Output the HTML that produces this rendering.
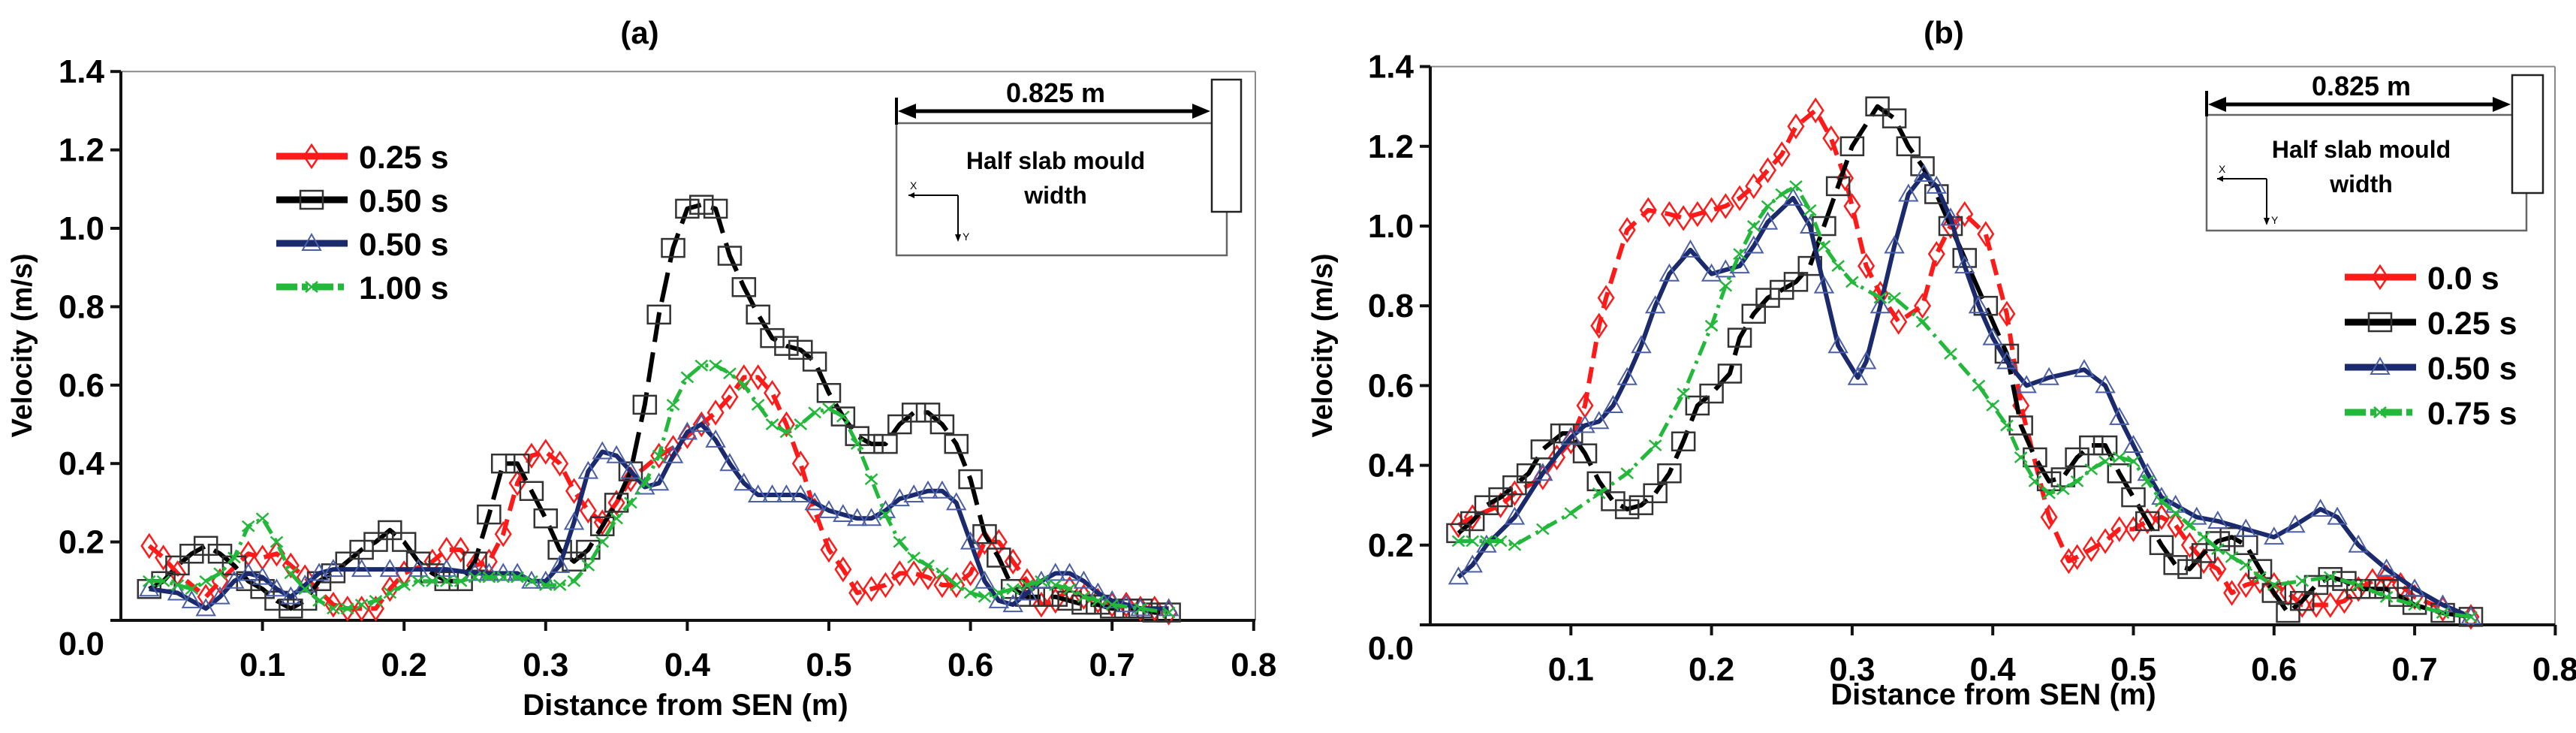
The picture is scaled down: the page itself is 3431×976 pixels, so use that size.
<!DOCTYPE html>
<html><head><meta charset="utf-8">
<style>
html,body{margin:0;padding:0;background:#fff;}
svg{display:block;font-family:"Liberation Sans",Arial,sans-serif;}
</style></head>
<body>
<svg id="chart" width="3431" height="976" viewBox="0 0 3431 976" xmlns="http://www.w3.org/2000/svg">
<rect x="0" y="0" width="3431" height="976" fill="#fff"/>
<g id="pa"></g>
<g id="pb"></g>
</svg>
<script>
// ---------- Panel (a) data ----------
const aRedX=[0.02,0.03,0.04,0.06,0.07,0.09,0.10,0.11,0.12,0.13,0.15,0.16,0.17,0.18,0.19,0.20,0.22,0.23,0.24,0.25,0.26,0.27,0.28,0.29,0.30,0.31,0.32,0.33,0.34,0.35,0.36,0.38,0.39,0.40,0.41,0.42,0.43,0.44,0.45,0.46,0.47,0.48,0.49,0.50,0.51,0.52,0.53,0.54,0.55,0.56,0.57,0.58,0.59,0.60,0.61,0.62,0.63,0.64,0.65,0.66,0.67,0.68,0.69,0.70,0.71,0.72,0.73,0.74];
const aRedY=[0.19,0.16,0.12,0.06,0.10,0.17,0.16,0.17,0.14,0.11,0.04,0.03,0.03,0.03,0.08,0.12,0.15,0.18,0.18,0.14,0.15,0.22,0.35,0.42,0.43,0.40,0.33,0.28,0.25,0.30,0.36,0.42,0.44,0.47,0.50,0.53,0.57,0.62,0.62,0.58,0.50,0.40,0.28,0.18,0.13,0.07,0.08,0.09,0.12,0.12,0.11,0.09,0.09,0.12,0.20,0.20,0.15,0.10,0.04,0.05,0.08,0.06,0.05,0.04,0.04,0.03,0.03,0.02];
const aBlkX=[0.02,0.03,0.04,0.05,0.06,0.07,0.08,0.09,0.10,0.11,0.12,0.13,0.14,0.15,0.16,0.17,0.18,0.19,0.20,0.21,0.22,0.23,0.24,0.25,0.26,0.27,0.28,0.29,0.30,0.31,0.32,0.33,0.34,0.35,0.36,0.37,0.38,0.39,0.40,0.41,0.42,0.43,0.44,0.45,0.46,0.47,0.48,0.49,0.50,0.51,0.52,0.53,0.54,0.55,0.56,0.57,0.58,0.59,0.60,0.61,0.62,0.63,0.64,0.65,0.66,0.67,0.68,0.69,0.70,0.71,0.72,0.73,0.74];
const aBlkY=[0.08,0.10,0.14,0.17,0.19,0.17,0.14,0.10,0.08,0.05,0.03,0.05,0.10,0.12,0.15,0.18,0.20,0.23,0.20,0.15,0.12,0.10,0.10,0.15,0.27,0.40,0.40,0.33,0.26,0.18,0.15,0.18,0.24,0.30,0.38,0.55,0.78,0.95,1.05,1.06,1.05,0.93,0.85,0.78,0.72,0.70,0.69,0.66,0.58,0.52,0.47,0.45,0.45,0.50,0.53,0.53,0.50,0.45,0.36,0.22,0.16,0.08,0.06,0.06,0.06,0.05,0.04,0.04,0.03,0.03,0.03,0.02,0.02];
const aBluX=[0.02,0.04,0.05,0.06,0.07,0.08,0.09,0.10,0.11,0.12,0.13,0.14,0.15,0.17,0.19,0.21,0.23,0.25,0.26,0.27,0.28,0.29,0.30,0.31,0.32,0.33,0.34,0.35,0.36,0.37,0.38,0.39,0.40,0.41,0.42,0.43,0.44,0.45,0.46,0.47,0.48,0.49,0.50,0.51,0.52,0.53,0.54,0.55,0.56,0.57,0.58,0.59,0.60,0.61,0.62,0.63,0.64,0.65,0.66,0.67,0.68,0.69,0.70,0.71,0.72,0.74];
const aBluY=[0.08,0.07,0.05,0.03,0.06,0.10,0.12,0.11,0.08,0.06,0.09,0.12,0.13,0.13,0.13,0.13,0.13,0.12,0.12,0.12,0.12,0.10,0.10,0.14,0.25,0.38,0.43,0.42,0.38,0.34,0.35,0.42,0.48,0.50,0.46,0.40,0.35,0.32,0.32,0.32,0.32,0.30,0.28,0.27,0.26,0.26,0.28,0.31,0.32,0.33,0.33,0.30,0.20,0.10,0.05,0.04,0.07,0.10,0.12,0.12,0.10,0.07,0.05,0.04,0.03,0.03];
const aGrnX=[0.02,0.03,0.04,0.05,0.06,0.07,0.08,0.09,0.10,0.11,0.12,0.13,0.14,0.15,0.16,0.17,0.18,0.19,0.20,0.21,0.22,0.23,0.24,0.25,0.26,0.27,0.28,0.29,0.30,0.31,0.32,0.33,0.34,0.35,0.36,0.37,0.38,0.39,0.40,0.41,0.42,0.43,0.44,0.45,0.46,0.47,0.48,0.49,0.50,0.51,0.52,0.53,0.54,0.55,0.56,0.57,0.58,0.59,0.60,0.61,0.62,0.63,0.64,0.65,0.66,0.67,0.68,0.69,0.70,0.72,0.74];
const aGrnY=[0.10,0.10,0.09,0.08,0.10,0.12,0.16,0.24,0.26,0.20,0.12,0.08,0.05,0.03,0.03,0.04,0.05,0.07,0.09,0.10,0.10,0.10,0.10,0.11,0.11,0.11,0.11,0.10,0.09,0.09,0.10,0.14,0.20,0.26,0.30,0.35,0.42,0.55,0.62,0.65,0.65,0.63,0.60,0.55,0.50,0.48,0.50,0.53,0.54,0.52,0.45,0.36,0.27,0.20,0.16,0.14,0.12,0.09,0.07,0.06,0.07,0.08,0.09,0.10,0.09,0.08,0.06,0.05,0.04,0.03,0.02];
const aLegend=["0.25 s","0.50 s","0.50 s","1.00 s"];

// ---------- Panel (b) data ----------
const bRedX=[0.02,0.03,0.05,0.06,0.08,0.09,0.10,0.11,0.12,0.125,0.14,0.155,0.17,0.18,0.19,0.20,0.21,0.22,0.23,0.24,0.25,0.26,0.274,0.285,0.295,0.30,0.31,0.32,0.333,0.35,0.36,0.37,0.38,0.395,0.41,0.42,0.44,0.454,0.46,0.47,0.48,0.49,0.50,0.51,0.52,0.53,0.54,0.55,0.56,0.57,0.58,0.59,0.60,0.61,0.62,0.63,0.64,0.65,0.66,0.67,0.68,0.69,0.70,0.72,0.74];
const bRedY=[0.25,0.27,0.30,0.33,0.37,0.42,0.46,0.55,0.75,0.82,0.99,1.04,1.03,1.02,1.03,1.04,1.05,1.07,1.10,1.14,1.18,1.25,1.29,1.22,1.12,1.05,0.90,0.83,0.76,0.80,0.93,1.00,1.03,0.98,0.78,0.55,0.27,0.16,0.17,0.19,0.21,0.24,0.24,0.26,0.27,0.25,0.20,0.16,0.14,0.08,0.10,0.11,0.10,0.08,0.05,0.05,0.05,0.06,0.09,0.11,0.12,0.10,0.07,0.04,0.02];
const bBlkX=[0.02,0.03,0.04,0.05,0.06,0.07,0.08,0.094,0.10,0.11,0.12,0.13,0.14,0.15,0.16,0.17,0.18,0.19,0.20,0.213,0.22,0.23,0.24,0.25,0.26,0.27,0.28,0.29,0.30,0.318,0.33,0.34,0.35,0.36,0.37,0.38,0.395,0.41,0.42,0.43,0.44,0.45,0.46,0.47,0.48,0.49,0.50,0.51,0.52,0.53,0.54,0.55,0.56,0.57,0.58,0.59,0.60,0.61,0.62,0.63,0.64,0.65,0.66,0.67,0.68,0.69,0.70,0.72,0.74];
const bBlkY=[0.23,0.26,0.30,0.32,0.35,0.38,0.44,0.48,0.48,0.43,0.36,0.31,0.29,0.30,0.33,0.38,0.46,0.55,0.58,0.63,0.72,0.78,0.82,0.84,0.86,0.90,1.00,1.10,1.20,1.30,1.27,1.20,1.15,1.08,1.00,0.92,0.80,0.68,0.50,0.42,0.36,0.37,0.42,0.45,0.45,0.38,0.32,0.26,0.20,0.15,0.14,0.18,0.21,0.22,0.20,0.14,0.08,0.03,0.06,0.10,0.12,0.11,0.09,0.09,0.09,0.07,0.05,0.03,0.02];
const bBluX=[0.02,0.03,0.04,0.06,0.08,0.10,0.11,0.12,0.13,0.14,0.15,0.16,0.17,0.185,0.20,0.21,0.22,0.23,0.24,0.258,0.27,0.28,0.29,0.304,0.31,0.32,0.33,0.34,0.351,0.36,0.37,0.38,0.39,0.40,0.41,0.424,0.44,0.465,0.48,0.49,0.50,0.51,0.52,0.53,0.545,0.56,0.58,0.60,0.615,0.633,0.645,0.66,0.68,0.70,0.72,0.74];
const bBluY=[0.12,0.15,0.20,0.27,0.38,0.47,0.50,0.51,0.55,0.62,0.70,0.80,0.88,0.94,0.88,0.89,0.90,0.95,1.01,1.07,1.00,0.85,0.70,0.62,0.66,0.80,0.95,1.08,1.13,1.10,1.02,0.90,0.80,0.72,0.66,0.60,0.62,0.64,0.60,0.52,0.45,0.38,0.32,0.30,0.27,0.26,0.24,0.22,0.25,0.29,0.27,0.20,0.14,0.09,0.05,0.02];
const bGrnX=[0.02,0.03,0.04,0.05,0.06,0.08,0.10,0.12,0.14,0.16,0.18,0.20,0.21,0.22,0.23,0.24,0.25,0.26,0.27,0.28,0.29,0.30,0.32,0.33,0.35,0.37,0.39,0.40,0.41,0.42,0.43,0.44,0.45,0.46,0.47,0.48,0.49,0.50,0.51,0.52,0.53,0.54,0.55,0.56,0.57,0.58,0.59,0.60,0.62,0.64,0.66,0.68,0.70,0.72,0.74];
const bGrnY=[0.21,0.21,0.21,0.21,0.20,0.24,0.28,0.33,0.38,0.45,0.58,0.75,0.85,0.93,1.00,1.05,1.08,1.10,1.04,0.95,0.90,0.86,0.82,0.82,0.76,0.68,0.60,0.55,0.50,0.42,0.36,0.33,0.34,0.36,0.39,0.41,0.42,0.41,0.36,0.31,0.28,0.25,0.22,0.19,0.17,0.15,0.12,0.10,0.11,0.12,0.10,0.07,0.05,0.03,0.02];
const bLegend=["0.0 s","0.25 s","0.50 s","0.75 s"];

const xTicks=[0.1,0.2,0.3,0.4,0.5,0.6,0.7,0.8];
const yTicks=[0.0,0.2,0.4,0.6,0.8,1.0,1.2,1.4];

const NS="http://www.w3.org/2000/svg";
function mk(parent,tag,attrs,text){
  const e=document.createElementNS(NS,tag);
  for(const k in attrs) e.setAttribute(k,attrs[k]);
  if(text!==undefined) e.textContent=text;
  parent.appendChild(e);
  return e;
}
const styles=[
  {color:"#ff1a1a",dash:"22,12",w:6,marker:"diamond"},
  {color:"#000",dash:"40,14",w:6,marker:"square"},
  {color:"#1a2a6c",dash:"",w:6,marker:"triangle"},
  {color:"#22b83a",dash:"20,8,4,8",w:5,marker:"cross"}
];
function markerEl(g,type,cx,cy,color){
  let e;
  if(type==="diamond"){
    e=mk(g,"polygon",{points:`${cx},${cy-15} ${cx+10},${cy} ${cx},${cy+15} ${cx-10},${cy}`,fill:"none",stroke:color,"stroke-width":2.5});
  }else if(type==="square"){
    e=mk(g,"rect",{x:cx-15,y:cy-12,width:30,height:24,fill:"none",stroke:"#333","stroke-width":2.5});
  }else if(type==="triangle"){
    e=mk(g,"polygon",{points:`${cx},${cy-12} ${cx+12},${cy+9} ${cx-12},${cy+9}`,fill:"none",stroke:"#4a5fa8","stroke-width":2});
  }else{
    e=mk(g,"path",{d:`M${cx-8},${cy-7}L${cx+8},${cy+7}M${cx-8},${cy+7}L${cx+8},${cy-7}`,stroke:color,"stroke-width":2.5});
  }
  return e;
}
function drawPanel(root,cfg){
  const X=v=>cfg.x0+v*cfg.xs;
  const Y=v=>cfg.y0-v*cfg.ys;
  const fr=mk(root,"g",{});
  
  
  mk(fr,"line",{x1:X(0),y1:Y(1.4),x2:cfg.right,y2:Y(1.4),stroke:"#888","stroke-width":2});
  mk(fr,"line",{x1:cfg.right,y1:Y(1.4),x2:cfg.right,y2:Y(0),stroke:"#888","stroke-width":2});
  mk(fr,"line",{x1:X(0),y1:Y(1.4),x2:X(0),y2:Y(0)+2,stroke:"#111","stroke-width":4});
  mk(fr,"line",{x1:X(0),y1:Y(0),x2:cfg.right,y2:Y(0),stroke:"#111","stroke-width":4});
  const t=mk(root,"text",{x:cfg.titleX,y:58,"font-size":42,"font-weight":"bold","text-anchor":"middle"},cfg.title);
  
  
  const yg=mk(root,"g",{});
  
  
  yTicks.forEach(v=>{
    mk(yg,"line",{x1:X(0)-14,y1:Y(v),x2:X(0),y2:Y(v),stroke:"#111","stroke-width":4});
    const ly = v===0 ? Y(v)+46 : Y(v)+15;
    const lb=mk(yg,"text",{x:X(0)-22,y:ly,"font-size":44,"font-weight":"bold","text-anchor":"end"},v.toFixed(1));
    
    
  });
  const xg=mk(root,"g",{});
  
  
  xTicks.forEach(v=>{
    mk(xg,"line",{x1:X(v),y1:Y(0),x2:X(v),y2:Y(0)+14,stroke:"#111","stroke-width":4});
    const lb=mk(xg,"text",{x:X(v),y:Y(0)+74,"font-size":44,"font-weight":"bold","text-anchor":"middle"},v.toFixed(1));
    
    
  });
  const xt=mk(root,"text",{x:cfg.xtX,y:cfg.xtY,"font-size":40,"font-weight":"bold","text-anchor":"middle"},"Distance from SEN (m)");
  
  
  const yt=mk(root,"text",{x:0,y:0,"font-size":38,"font-weight":"bold","text-anchor":"middle",transform:`translate(${cfg.ytX},460) rotate(-90)`},"Velocity (m/s)");
  
  
  cfg.series.forEach((s,i)=>{
    const st=styles[i];
    const g=mk(root,"g",{});
    
    
    const pts=s.x.map((xv,j)=>X(xv).toFixed(1)+","+Y(s.y[j]).toFixed(1)).join(" ");
    const pl=mk(g,"polyline",{points:pts,fill:"none",stroke:st.color,"stroke-width":st.w,"stroke-dasharray":st.dash,"stroke-linejoin":"round"});
    
    
    s.x.forEach((xv,j)=>{
      const m=markerEl(g,st.marker,X(xv),Y(s.y[j]),st.color);
      
      
    });
  });
  const lg=mk(root,"g",{});
  
  
  cfg.legend.forEach((lab,i)=>{
    const st=styles[i];
    const y=cfg.legY+i*cfg.legDy;
    const e=mk(lg,"g",{});
    
    
    mk(e,"line",{x1:cfg.legX,y1:y,x2:cfg.legX+95,y2:y,stroke:st.color,"stroke-width":9,"stroke-dasharray":i===3?"28,6,8,6":""});
    markerEl(e,st.marker,cfg.legX+47,y,st.color);
    mk(e,"text",{x:cfg.legX+110,y:y+16,"font-size":43,"font-weight":"bold"},lab);
  });
  const ins=mk(root,"g",{});
  
  
  const I=cfg.inset;
  mk(ins,"rect",{x:I.bx,y:I.by,width:I.bw,height:I.bh,fill:"none",stroke:"#666","stroke-width":2.5});
  mk(ins,"rect",{x:I.rx,y:I.ry,width:I.rw,height:I.rh,fill:"#fff",stroke:"#222","stroke-width":2.5});
  mk(ins,"line",{x1:I.bx,y1:I.ay-18,x2:I.bx,y2:I.by+2,stroke:"#000","stroke-width":4});
  mk(ins,"line",{x1:I.bx+18,y1:I.ay,x2:I.rx-18,y2:I.ay,stroke:"#000","stroke-width":5});
  mk(ins,"polygon",{points:`${I.bx+2},${I.ay} ${I.bx+26},${I.ay-10} ${I.bx+26},${I.ay+10}`,fill:"#000"});
  mk(ins,"polygon",{points:`${I.rx-2},${I.ay} ${I.rx-26},${I.ay-10} ${I.rx-26},${I.ay+10}`,fill:"#000"});
  mk(ins,"text",{x:I.tx,y:I.ay-12,"font-size":36,"font-weight":"bold","text-anchor":"middle"},"0.825 m");
  mk(ins,"text",{x:I.tx,y:I.h1,"font-size":32,"font-weight":"bold","text-anchor":"middle"},"Half slab mould");
  mk(ins,"text",{x:I.tx,y:I.h1+46,"font-size":32,"font-weight":"bold","text-anchor":"middle"},"width");
  mk(ins,"line",{x1:I.cx,y1:I.cy,x2:I.cx+66,y2:I.cy,stroke:"#000","stroke-width":2});
  mk(ins,"line",{x1:I.cx+66,y1:I.cy,x2:I.cx+66,y2:I.cy+56,stroke:"#000","stroke-width":2});
  mk(ins,"polygon",{points:`${I.cx},${I.cy} ${I.cx+8},${I.cy-4} ${I.cx+8},${I.cy+4}`,fill:"#000"});
  mk(ins,"polygon",{points:`${I.cx+66},${I.cy+62} ${I.cx+62},${I.cy+52} ${I.cx+70},${I.cy+52}`,fill:"#000"});
  mk(ins,"text",{x:I.cx+2,y:I.cy-8,"font-size":14},"X");
  mk(ins,"text",{x:I.cx+72,y:I.cy+60,"font-size":14},"Y");
}
drawPanel(document.getElementById('pa'),{
  x0:161,xs:1886,y0:826,ys:522,right:1672,title:"(a)",titleX:852,
  xtX:913,xtY:952,ytX:42,legX:368,legY:208,legDy:58,legend:aLegend,
  series:[{x:aRedX,y:aRedY},{x:aBlkX,y:aBlkY},{x:aBluX,y:aBluY},{x:aGrnX,y:aGrnY}],
  inset:{bx:1194,by:164,bw:440,bh:176,rx:1614,ry:106,rw:39,rh:176,ay:148,tx:1406,h1:225,cx:1210,cy:260}
});
drawPanel(document.getElementById('pb'),{
  x0:1905,xs:1873,y0:832,ys:531,right:3403,title:"(b)",titleX:2589,
  xtX:2655,xtY:938,ytX:1774,legX:3123,legY:369,legDy:60,legend:bLegend,
  series:[{x:bRedX,y:bRedY},{x:bBlkX,y:bBlkY},{x:bBluX,y:bBluY},{x:bGrnX,y:bGrnY}],
  inset:{bx:2939,by:153,bw:426,bh:154,rx:3346,ry:100,rw:41,rh:157,ay:139,tx:3145,h1:210,cx:2953,cy:238}
});
</script>
</body></html>
